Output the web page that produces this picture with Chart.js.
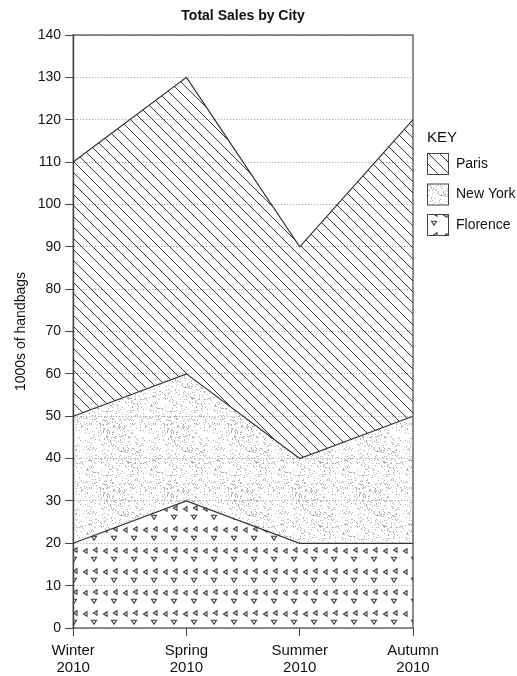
<!DOCTYPE html>
<html>
<head>
<meta charset="utf-8">
<script src="https://cdn.jsdelivr.net/npm/chart.js@4.4.0/dist/chart.umd.min.js"></script>
<style>
  html, body { margin: 0; padding: 0; background: #fff; }
  #wrap { width: 517px; height: 676px; position: relative; }
</style>
</head>
<body>
<div id="wrap"><canvas id="salesChart"></canvas></div>
<script>
const seasons = [["Winter", "2010"], ["Spring", "2010"], ["Summer", "2010"], ["Autumn", "2010"]]
const florence = [20, 30, 20, 20]
const newYork = [30, 30, 20, 30]
const paris = [60, 70, 50, 70]
const yTicks = [0, 10, 20, 30, 40, 50, 60, 70, 80, 90, 100, 110, 120, 130, 140]

const FONT = "'Liberation Sans', Arial, sans-serif"

// pattern tiles
function hatchPattern() {
  const c = document.createElement("canvas")
  c.width = 11; c.height = 11
  const g = c.getContext("2d")
  g.strokeStyle = "#3a3a3a"
  g.lineWidth = 1
  g.beginPath()
  g.moveTo(-1, -1); g.lineTo(12, 12)
  g.moveTo(-1, 10); g.lineTo(1, 12)
  g.moveTo(10, -1); g.lineTo(12, 1)
  g.stroke()
  return g.createPattern(c, "repeat")
}

function stipplePattern() {
  const c = document.createElement("canvas")
  c.width = 64; c.height = 64
  const g = c.getContext("2d")
  let seed = 7
  const rnd = () => { seed = (seed * 16807) % 2147483647; return seed / 2147483647 }
  g.fillStyle = "#b0b0b0"
  for (let i = 0; i < 520; i++) {
    g.fillRect(Math.floor(rnd() * 64), Math.floor(rnd() * 64), 1, 1)
  }
  return g.createPattern(c, "repeat")
}

function trianglePattern() {
  const c = document.createElement("canvas")
  c.width = 20; c.height = 21
  const g = c.getContext("2d")
  g.strokeStyle = "#3c3c3c"
  g.lineWidth = 1.1
  const left = (x, y) => { g.beginPath(); g.moveTo(x + 2, y - 2.2); g.lineTo(x - 1.5, y); g.lineTo(x + 2, y + 2.2); g.closePath(); g.stroke() }
  const down = (x, y) => { g.beginPath(); g.moveTo(x - 2.5, y - 1.8); g.lineTo(x + 2.5, y - 1.8); g.lineTo(x, y + 2.2); g.closePath(); g.stroke() }
  left(5, 5); left(15, 4)
  down(14, 13)
  return g.createPattern(c, "repeat")
}

const patterns = { paris: hatchPattern(), newYork: stipplePattern(), florence: trianglePattern() }

const legendItems = [
  { label: "Paris", fill: patterns.paris },
  { label: "New York", fill: patterns.newYork },
  { label: "Florence", fill: patterns.florence }
]

const framePlugin = {
  id: "frame",
  afterDraw(chart) {
    const { ctx, chartArea: a } = chart
    ctx.save()
    ctx.strokeStyle = "#444"
    ctx.lineWidth = 1.2
    ctx.strokeRect(a.left, a.top, a.right - a.left, a.bottom - a.top)

    // title centred on the plot
    ctx.fillStyle = "#111"
    ctx.textAlign = "center"
    ctx.textBaseline = "middle"
    ctx.font = "bold 14px " + FONT
    ctx.fillText("Total Sales by City", (a.left + a.right) / 2, 16)

    // key
    ctx.textAlign = "left"
    const x = a.right + 14
    ctx.font = "15px " + FONT
    ctx.fillText("KEY", x, 138)
    ctx.font = "14px " + FONT
    legendItems.forEach((item, i) => {
      const y = 153 + i * 30.5
      ctx.fillStyle = "#fff"
      ctx.fillRect(x, y, 21, 21)
      ctx.fillStyle = item.fill
      ctx.fillRect(x, y, 21, 21)
      ctx.strokeStyle = "#444"
      ctx.lineWidth = 1
      ctx.strokeRect(x + 0.5, y + 0.5, 21, 21)
      ctx.fillStyle = "#111"
      ctx.fillText(item.label, x + 29, y + 11)
    })
    ctx.restore()
  }
}

const line = { borderColor: "#333", borderWidth: 1.2, pointRadius: 0, tension: 0 }

new Chart(document.getElementById("salesChart"), {
  type: "line",
  data: {
    labels: seasons,
    datasets: [
      { label: "Florence", data: florence, fill: "origin", backgroundColor: patterns.florence, ...line },
      { label: "New York", data: newYork, fill: "-1", backgroundColor: patterns.newYork, ...line },
      { label: "Paris", data: paris, fill: "-1", backgroundColor: patterns.paris, ...line }
    ]
  },
  plugins: [framePlugin],
  options: {
    responsive: true,
    maintainAspectRatio: false,
    animation: false,
    layout: { padding: { left: 13, right: 104, top: 35, bottom: 0 } },
    plugins: {
      legend: { display: false },
      tooltip: { enabled: false },
      title: { display: false }
    },
    scales: {
      x: {
        offset: false,
        afterFit: scale => { scale.height = 48 },
        grid: { drawOnChartArea: false, drawTicks: true, tickLength: 8, tickColor: "#444", color: "#444" },
        border: { display: false },
        ticks: {
          color: "#111",
          maxRotation: 0,
          padding: 7,
          font: { family: FONT, size: 15, lineHeight: 1.1 }
        }
      },
      y: {
        stacked: true,
        min: 0,
        max: 140,
        afterBuildTicks: scale => { scale.ticks = yTicks.map(v => ({ value: v })) },
        grid: {
          color: "#9a9a9a",
          lineWidth: 1,
          tickBorderDash: [],
          tickColor: "#444",
          tickLength: 8
        },
        border: { display: true, color: "#444", width: 1.2, dash: [1, 2] },
        ticks: {
          color: "#111",
          padding: 4,
          font: { family: FONT, size: 14 }
        },
        title: {
          display: true,
          text: "1000s of handbags",
          color: "#111",
          padding: { top: 0, bottom: 4 },
          font: { family: FONT, size: 14 }
        }
      }
    }
  }
})
</script>
</body>
</html>
